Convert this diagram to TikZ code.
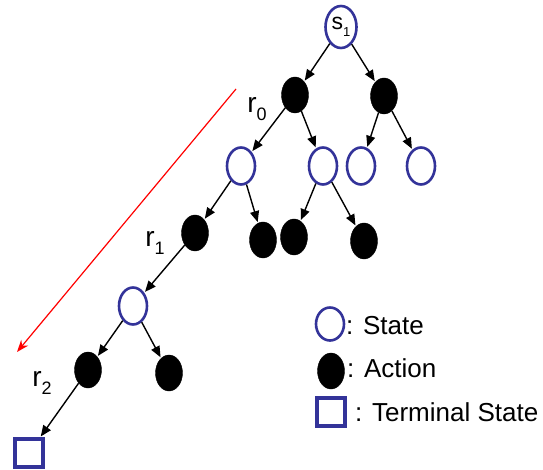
\documentclass[tikz,border=0pt]{standalone}
\usepackage{fontspec}
\setmainfont{Liberation Sans}
\usetikzlibrary{arrows.meta,shapes.geometric}
\definecolor{stateblue}{RGB}{51,51,153}
% letter with a lowered index in a given size
\newcommand{\sub}[3]{#1\raisebox{-0.3em}{\fontsize{#3}{#3}\selectfont #2}}
\begin{document}
\begin{tikzpicture}[x=1pt,y=-1pt,
  statenode/.style={ellipse,draw=stateblue,line width=2.6pt,fill=white,
    minimum width=28pt,minimum height=37pt,inner sep=0pt},
  actionnode/.style={ellipse,fill=black,draw=black,
    minimum width=27pt,minimum height=36pt,inner sep=0pt},
  termnode/.style={rectangle,draw=stateblue,line width=3.4pt,fill=white,
    minimum size=28pt,inner sep=0pt},
  edge/.style={-{Triangle[length=11pt,width=9pt]},line width=1.4pt,shorten >=1pt},
  rlabel/.style={font=\fontsize{28}{28}\selectfont,inner sep=0pt},
  legtext/.style={font=\fontsize{26}{26}\selectfont,anchor=west,inner sep=0pt}]
\useasboundingbox (0,0) rectangle (543,470);

% reward direction
\coordinate (redtop) at (236,89);
\coordinate (redtip) at (17,352);
\draw[red,line width=1.2pt,-{Stealth[length=12pt,width=9pt]}] (redtop) -- (redtip);

% tree nodes
\node[statenode,minimum width=31pt,minimum height=42pt,
  font=\fontsize{23}{23}\selectfont] (s1) at (341,27) {\sub{s}{1}{13}};
\node[actionnode] (a1) at (295,95) {};
\node[actionnode] (a2) at (384,96) {};
\node[statenode] (s21) at (241,166) {};
\node[statenode] (s22) at (323,166) {};
\node[statenode] (s23) at (361,166) {};
\node[statenode] (s24) at (421,166) {};
\node[actionnode] (a31) at (195,233) {};
\node[actionnode] (a32) at (263,240) {};
\node[actionnode] (a33) at (294,237) {};
\node[actionnode] (a34) at (364,241) {};
\node[statenode] (s4) at (133,306) {};
\node[actionnode] (a51) at (88,370) {};
\node[actionnode] (a52) at (169,373) {};
\node[termnode] (t) at (29,453) {};

% edges
\draw[edge] (s1) -- (a1);
\draw[edge] (s1) -- (a2);
\draw[edge] (a1) -- (s21);
\draw[edge] (a1) -- (s22);
\draw[edge] (a2) -- (s23);
\draw[edge] (a2) -- (s24);
\draw[edge] (s21) -- (a31);
\draw[edge] (s21) -- (a32);
\draw[edge] (s22) -- (a33);
\draw[edge] (s22) -- (a34);
\draw[edge] (a31) -- (s4);
\draw[edge] (s4) -- (a51);
\draw[edge] (s4) -- (a52);
\draw[edge] (a51) -- (t);

% rewards
\node[rlabel] (r0) at (257,109) {\sub{r}{0}{18}};
\node[rlabel] (r1) at (155,243) {\sub{r}{1}{18}};
\node[rlabel] (r2) at (42,383) {\sub{r}{2}{18}};

% legend
\node[statenode,minimum width=28pt,minimum height=33pt] (lstate) at (330,324) {};
\node[legtext] (lstatet) at (346,326) {: State};
\node[actionnode] (laction) at (331,371) {};
\node[legtext] (lactiont) at (347,368) {: Action};
\node[termnode] (lterm) at (331,412) {};
\node[legtext] (ltermt) at (355,412) {: Terminal State};
\end{tikzpicture}
\end{document}
